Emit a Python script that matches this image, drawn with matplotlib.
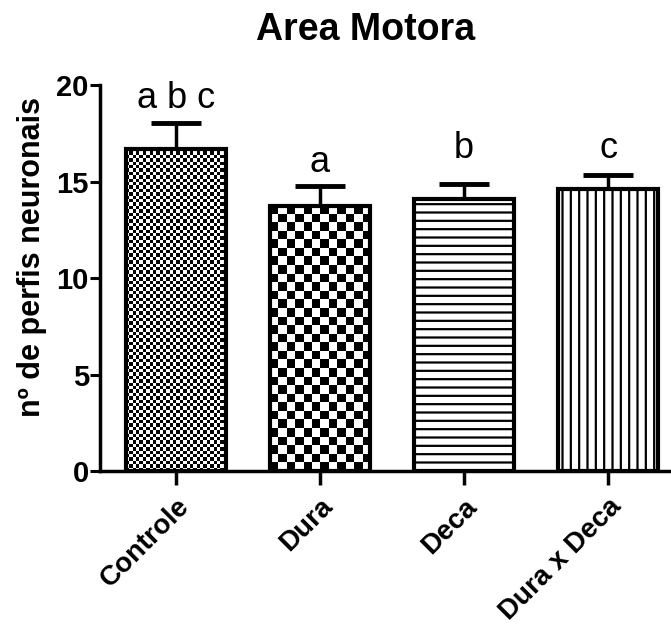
import numpy as np
import matplotlib
matplotlib.use("Agg")
import matplotlib.pyplot as plt

groups = ["Controle", "Dura", "Deca", "Dura x Deca"]
means = [16.7, 13.75, 14.1, 14.6]
errs = [1.35, 1.0, 0.8, 0.75]
letters = ["a b c", "a", "b", "c"]
letter_y = [19.3, 16.0, 16.7, 16.7]

plt.rcParams["font.family"] = ["Liberation Sans", "DejaVu Sans"]
plt.rcParams["hatch.linewidth"] = 1.6

fig = plt.figure(figsize=(6.71, 6.30), dpi=100)
ax = fig.add_axes([0.149, 0.252, 0.851, 0.613])

x = np.arange(len(groups))
bars = ax.bar(x, means, width=0.70, color="white", edgecolor="black",
              linewidth=3.0, zorder=3)
ax.errorbar(x, means, yerr=[np.zeros(len(errs)), errs], fmt="none",
            ecolor="black", elinewidth=2.5, capsize=18, capthick=3.5, zorder=2)

# horizontal / vertical lines
bars[2].set_hatch("--")
bars[3].set_hatch("||")

xlim = (-0.528, 3.437)
ylim = (0, 20)
ax.set_xlim(xlim)
ax.set_ylim(ylim)

# checkerboard fills for first two bars
px_x = 571 / (xlim[1] - xlim[0])
px_y = 386 / (ylim[1] - ylim[0])
for b, cell in [(bars[0], 3.4), (bars[1], 8.5)]:
    b.set_facecolor("none")
    x0, w, h = b.get_x(), b.get_width(), b.get_height()
    nx = int(round(w * px_x / cell))
    ny = int(round(h * px_y / cell))
    board = (np.add.outer(np.arange(ny), np.arange(nx)) % 2).astype(float)
    im = ax.imshow(board, cmap="gray", extent=(x0, x0 + w, 0, h), origin="upper",
                   aspect="auto", interpolation="nearest", zorder=2.5)
    im.set_clip_path(b)
ax.set_xlim(xlim)
ax.set_ylim(ylim)

for xi, t, yy in zip(x, letters, letter_y):
    ax.text(xi, yy, t, ha="center", va="center", fontsize=26)

ax.spines["top"].set_visible(False)
ax.spines["right"].set_visible(False)
ax.spines["left"].set_linewidth(2.5)
ax.spines["bottom"].set_linewidth(2.5)
ax.spines["left"].set_bounds(0, 20)

ax.set_yticks([0, 5, 10, 15, 20])
ax.tick_params(axis="y", direction="out", length=7, width=2.2, labelsize=21, pad=1)
ax.tick_params(axis="x", direction="out", length=10, width=2.5, labelsize=20, pad=6)
for lab in ax.get_yticklabels():
    lab.set_fontweight("bold")
ax.set_xticks(x)
ax.set_xticklabels(groups, rotation=45, ha="right", rotation_mode="anchor",
                   fontweight="bold")

ax.set_ylabel("nº de perfis neuronais", fontsize=22, fontweight="bold")
ax.yaxis.set_label_coords(-0.093, 0.554)
fig.text(0.545, 0.952, "Area Motora", ha="center", va="center",
         fontsize=27, fontweight="bold")

fig.savefig("out.png", dpi=100)
